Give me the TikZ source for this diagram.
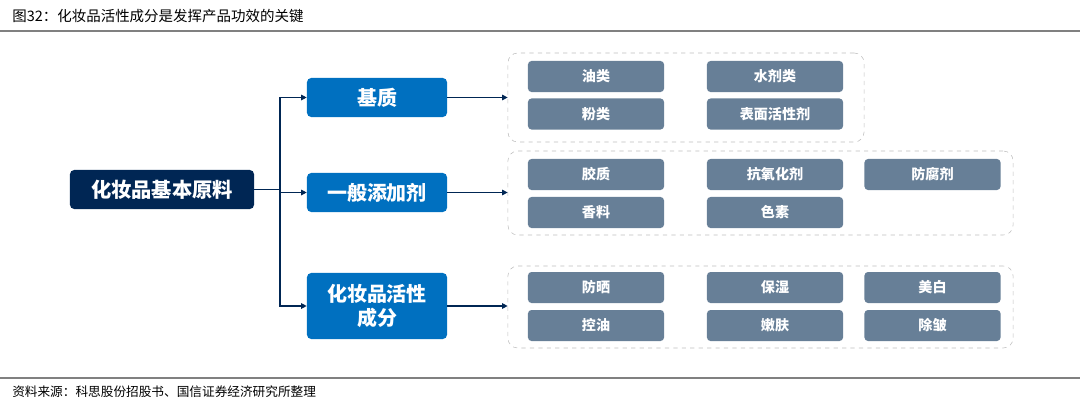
\documentclass[tikz,border=0pt]{standalone}
\usepackage{fontspec}
\setmainfont{Noto Sans CJK SC}
\newfontfamily\cjk{Noto Sans CJK SC}
\usetikzlibrary{arrows.meta}

\begin{document}
\begin{tikzpicture}[x=0.025cm,y=-0.025cm,
    rootbox/.style={shape=rectangle,fill=cosm_root,rounded corners=3pt,text=white,font=\cjk\bfseries\fontsize{14.4}{16}\selectfont,inner sep=0pt},
    catbox/.style={shape=rectangle,fill=cosm_cat,rounded corners=3pt,text=white,font=\cjk\bfseries\fontsize{14.2}{17}\selectfont,align=center,inner sep=0pt,minimum width=3.5cm,minimum height=0.975cm},
    itembox/.style={shape=rectangle,fill=cosm_item,rounded corners=2.5pt,text=white,font=\cjk\bfseries\fontsize{10}{12}\selectfont,inner sep=0pt,minimum width=3.4cm,minimum height=0.775cm},
    groupbox/.style={shape=rectangle,draw=cosm_dash,dashed,rounded corners=7pt,inner sep=0pt},
    link/.style={draw=cosm_root,line width=0.8pt,-{Triangle[length=4pt,width=4pt]}}]
    \definecolor{cosm_root}{RGB}{0,38,84}
    \definecolor{cosm_cat}{RGB}{0,112,192}
    \definecolor{cosm_item}{RGB}{103,127,151}
    \definecolor{cosm_dash}{RGB}{190,190,190}
    \definecolor{cosm_rule}{RGB}{128,128,128}
    \useasboundingbox (0,0) rectangle (1080,415);
    % header and footer
    \node[anchor=west,inner sep=0pt,font=\cjk\fontsize{10.3}{12}\selectfont] (title) at (12,16) {图32：化妆品活性成分是发挥产品功效的关键};
    \draw[cosm_rule,line width=0.9pt] (0,31) -- (1080,31);
    \draw[cosm_rule,line width=1.4pt] (0,378) -- (1080,378);
    \node[anchor=west,inner sep=0pt,font=\cjk\fontsize{9}{11}\selectfont] (source) at (12,392) {资料来源：科思股份招股书、国信证券经济研究所整理};
    % dashed groups
    \node[groupbox,minimum width=8.9cm,minimum height=2.225cm] (gbase) at (686,97.5) {};
    \node[groupbox,minimum width=12.625cm,minimum height=2.1cm] (gadd) at (760.5,193) {};
    \node[groupbox,minimum width=12.625cm,minimum height=2.05cm] (gact) at (760.5,307) {};
    % root and categories
    \node[rootbox,minimum width=4.6cm,minimum height=0.975cm] (root) at (162,189.5) {化妆品基本原料};
    \node[catbox] (base) at (377,97.5) {基质};
    \node[catbox] (add) at (377,192.5) {一般添加剂};
    \node[catbox,minimum height=1.65cm] (act) at (377,306) {化妆品活性\\成分};
    \coordinate (split) at (280,189.5);
    \draw[cosm_root,line width=0.8pt] (root.east) -- (split);
    \draw[link] (split) |- (base.west);
    \draw[link] (split) |- (add.west);
    \draw[link] (split) |- (act.west);
    \draw[link] (base.east) -- (gbase.west);
    \draw[link] (add.east) -- (add.east -| gadd.west);
    \draw[link] (act.east) -- (act.east -| gact.west);
    % items
    \node[itembox] (oil) at (596,76.5) {油类};
    \node[itembox] (water) at (775,76.5) {水剂类};
    \node[itembox] (powder) at (596,114) {粉类};
    \node[itembox] (surf) at (775,114) {表面活性剂};
    \node[itembox] (gum) at (596,174.5) {胶质};
    \node[itembox] (antiox) at (775,174.5) {抗氧化剂};
    \node[itembox] (preserv) at (932.5,174.5) {防腐剂};
    \node[itembox] (fragr) at (596,212.5) {香料};
    \node[itembox] (pigm) at (775,212.5) {色素};
    \node[itembox] (sun) at (596,287.5) {防晒};
    \node[itembox] (moist) at (775,287.5) {保湿};
    \node[itembox] (white) at (932.5,287.5) {美白};
    \node[itembox] (oilctl) at (596,325.5) {控油};
    \node[itembox] (tender) at (775,325.5) {嫩肤};
    \node[itembox] (wrinkle) at (932.5,325.5) {除皱};
\end{tikzpicture}
\end{document}
